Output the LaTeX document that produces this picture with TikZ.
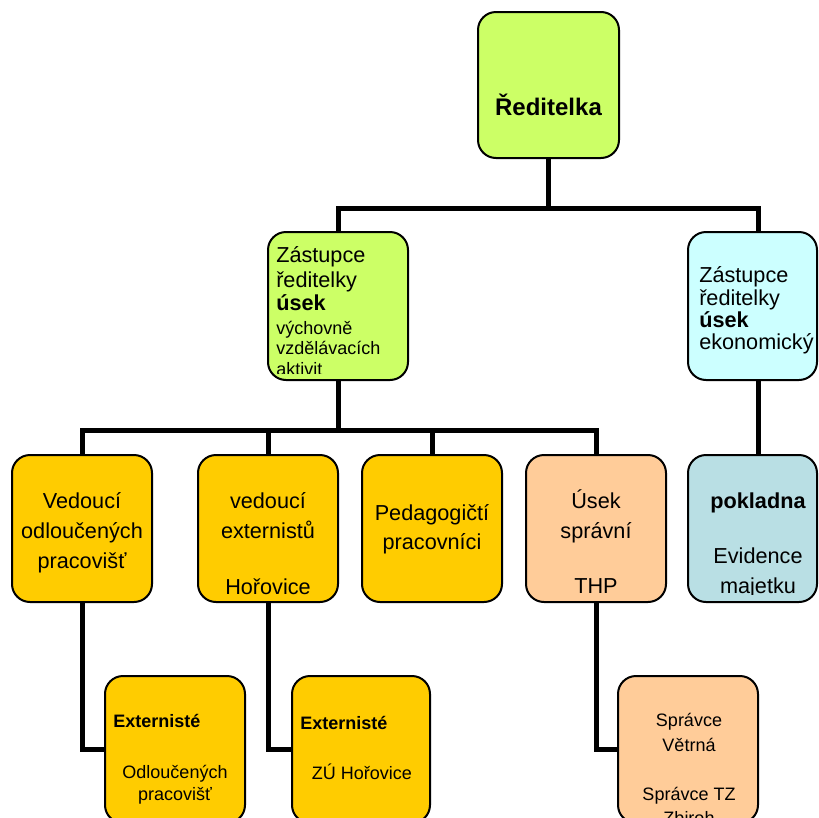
\documentclass[tikz,border=0pt]{standalone}
\usepackage{fontspec}
\setmainfont{Liberation Sans}
\usetikzlibrary{backgrounds}
\definecolor{cLime}{HTML}{CCFF66}
\definecolor{cCyan}{HTML}{CCFFFF}
\definecolor{cGold}{HTML}{FFCC00}
\definecolor{cPeach}{HTML}{FFCC99}
\definecolor{cTeal}{HTML}{B9DFE4}
\newcommand\szR{\fontsize{18}{21}\selectfont\bfseries}
\newcommand\szM{\fontsize{16.25}{19}\selectfont}
\newcommand\szS{\fontsize{13.5}{16}\selectfont}
\begin{document}
\begin{tikzpicture}[x=0.75pt,y=-0.75pt,
  box/.style={draw=black, line width=1.5pt, rounded corners=13.5pt,
    minimum width=105pt, minimum height=110.25pt, inner sep=0pt},
  conn/.style={line width=3.75pt, line join=miter},
  lbl/.style={inner sep=0pt, anchor=base},
  lblw/.style={inner sep=0pt, anchor=base west}]
\useasboundingbox (0,0) rectangle (818,818);
\clip (0,0) rectangle (818,818);

% boxes
\node[box, fill=cLime, minimum width=105.75pt, minimum height=109.5pt] (top) at (548.5,85) {};
\node[box, fill=cLime, minimum height=111pt] (zl) at (338,306) {};
\node[box, fill=cCyan, minimum width=96.75pt, minimum height=111pt] (zr) at (752.5,306) {};
\node[box, fill=cGold] (b1) at (82,528.5) {};
\node[box, fill=cGold] (b2) at (268,528.5) {};
\node[box, fill=cGold] (b3) at (432,528.5) {};
\node[box, fill=cPeach] (b4) at (596,528.5) {};
\node[box, fill=cTeal, minimum width=96.75pt] (b5) at (752.5,528.5) {};
\node[box, fill=cGold] (e1) at (175,749.5) {};
\node[box, fill=cGold, minimum width=103.5pt] (e2) at (361,749.5) {};
\node[box, fill=cPeach] (s1) at (688,749.5) {};

% connectors
\coordinate (bus1) at (548.5,208);
\coordinate (bus2) at (338,430);
\begin{scope}[on background layer]
\draw[conn] (top.south) -- (bus1) -| (zl.north);
\draw[conn] (bus1) -| ([xshift=4.125pt]zr.north);
\draw[conn] (zl.south) -- (bus2);
\draw[conn] (b1.north) |- (bus2) -| (b4.north);
\draw[conn] (b2.north) -- (b2.north |- bus2);
\draw[conn] (b3.north) -- (b3.north |- bus2);
\draw[conn] ([xshift=4.125pt]zr.south) -- ([xshift=4.125pt]b5.north);
\draw[conn] (b1.south) |- (e1.west);
\draw[conn] (b2.south) |- (e2.west);
\draw[conn] (b4.south) |- (s1.west);
\end{scope}

% texts
\node[lbl, font=\szR] (t0) at (548.5,115) {Ředitelka};

\begin{scope}
\clip (zl.north west) rectangle ([yshift=6pt]zl.south east);
\node[lblw, font=\szM] (t1) at (276,262) {Zástupce};
\node[lblw, font=\szM] (t2) at (276,287) {ředitelky};
\node[lblw, font=\szM\bfseries] (t3) at (276,310) {úsek};
\node[lblw, font=\szS] (t4) at (276,334) {výchovně};
\node[lblw, font=\szS] (t5) at (276,354) {vzdělávacích};
\node[lblw, font=\szS] (t6) at (276,375.5) {aktivit};
\end{scope}

\node[lblw, font=\szM] (r1) at (699,282) {Zástupce};
\node[lblw, font=\szM] (r2) at (699,305) {ředitelky};
\node[lblw, font=\szM\bfseries] (r3) at (699,327) {úsek};
\node[lblw, font=\szM] (r4) at (699,349) {ekonomický};

\node[lbl, font=\szM] (a1) at (82,508) {Vedoucí};
\node[lbl, font=\szM] (a2) at (82,538) {odloučených};
\node[lbl, font=\szM] (a3) at (82,568) {pracovišť};

\node[lbl, font=\szM] (c1) at (268,508) {vedoucí};
\node[lbl, font=\szM] (c2) at (268,538) {externistů};
\node[lbl, font=\szM] (c3) at (268,594) {Hořovice};

\node[lbl, font=\szM] (d1) at (432,520) {Pedagogičtí};
\node[lbl, font=\szM] (d2) at (432,549) {pracovníci};

\node[lbl, font=\szM] (f1) at (596,508) {Úsek};
\node[lbl, font=\szM] (f2) at (596,538) {správní};
\node[lbl, font=\szM] (f3) at (596,593) {THP};

\begin{scope}
\clip (b5.north west) rectangle ([yshift=6.75pt]b5.south east);
\node[lbl, font=\szM\bfseries] (g1) at (758,508) {pokladna};
\node[lbl, font=\szM] (g2) at (758,563) {Evidence};
\node[lbl, font=\szM] (g3) at (758,593.5) {majetku};
\end{scope}

\node[lblw, font=\szS\bfseries] (h1) at (113,727) {Externisté};
\node[lbl, font=\szS] (h2) at (175,778) {Odloučených};
\node[lbl, font=\szS] (h3) at (175,800) {pracovišť};

\node[lblw, font=\szS\bfseries] (k1) at (300,729) {Externisté};
\node[lbl, font=\szS] (k2) at (362,779) {ZÚ Hořovice};

\node[lbl, font=\szS] (m1) at (689,726) {Správce};
\node[lbl, font=\szS] (m2) at (689,751) {Větrná};
\node[lbl, font=\szS] (m3) at (689,800) {Správce TZ};
\node[lbl, font=\szS] (m4) at (689,824) {Zbiroh};
\end{tikzpicture}
\end{document}
